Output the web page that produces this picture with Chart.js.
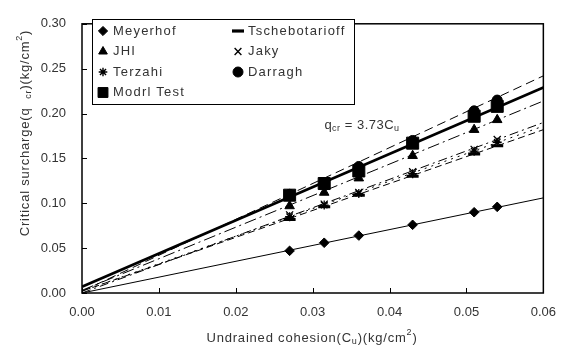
<!DOCTYPE html>
<html>
<head>
<meta charset="utf-8">
<script src="https://cdn.jsdelivr.net/npm/chart.js@4"></script>
<style>
  html, body { margin: 0; padding: 0; background: #fff; }
  #wrap { position: relative; width: 568px; height: 351px; }
</style>
</head>
<body>
<div id="wrap"><canvas id="surchargeChart" width="568" height="351"></canvas></div>
<script>
// Undrained cohesion of the test points (kg/cm2)
const cohesion = [0.027, 0.0315, 0.036, 0.043, 0.051, 0.054];

// Critical surcharge by method (kg/cm2)
const meyerhof = [0.047, 0.056, 0.064, 0.076, 0.090, 0.096];
const tschebotarioff = [0.082, 0.096, 0.109, 0.130, 0.155, 0.164];
const jhi = [0.097, 0.112, 0.128, 0.153, 0.182, 0.193];
const jaky = [0.087, 0.099, 0.112, 0.135, 0.160, 0.171];
const terzahi = [0.085, 0.098, 0.111, 0.133, 0.158, 0.168];
const darragh = [0.110, 0.123, 0.141, 0.170, 0.203, 0.215];
const modelTest = [0.109, 0.122, 0.136, 0.167, 0.197, 0.208];

// Trend lines, read at Cu = 0 and Cu = 0.06
const fitX = [0, 0.06];
const meyerhofFit = [0.000, 0.106];
const tschebotarioffFit = [0.002, 0.182];
const jhiFit = [0.003, 0.214];
const jakyFit = [0.000, 0.190];
const terzahiFit = [0.002, 0.186];
const darraghFit = [0.002, 0.242];
const modelFit = [0.007, 0.229];

const xTicks = [0, 0.01, 0.02, 0.03, 0.04, 0.05, 0.06];
const yTicks = [0, 0.05, 0.10, 0.15, 0.20, 0.25, 0.30];

const pts = (xs, ys) => xs.map((x, i) => ({ x: x, y: ys[i] }));

const TEXT = "#333";
const FONT = "Liberation Sans, Arial, sans-serif";

function markerSet(label, ys, style, radius, extra) {
    return Object.assign({
        label: label,
        data: pts(cohesion, ys),
        showLine: false,
        pointStyle: style,
        pointRadius: radius,
        pointBackgroundColor: "#000",
        pointBorderColor: "#000",
        pointBorderWidth: 1
    }, extra || {});
}

function fitSet(ys, width, dash) {
    return {
        label: "",
        data: pts(fitX, ys),
        showLine: true,
        borderColor: "#000",
        borderWidth: width,
        borderDash: dash,
        pointRadius: 0,
        fill: false
    };
}

const datasets = [
    markerSet("Modrl Test", modelTest, "rect", 8.5),
    markerSet("Darragh", darragh, "circle", 5),
    markerSet("Tschebotarioff", tschebotarioff, "line", 6, { pointBorderWidth: 3 }),
    markerSet("JHI", jhi, "triangle", 5.5),
    markerSet("Jaky", jaky, "crossRot", 5, { pointBorderWidth: 1.3 }),
    markerSet("Terzahi", terzahi, "star", 4.5, { pointBorderWidth: 1.3 }),
    markerSet("Meyerhof", meyerhof, "rectRot", 4.8),
    fitSet(modelFit, 2.6, []),
    fitSet(darraghFit, 1, [9, 5]),
    fitSet(jhiFit, 1, [12, 4, 2, 4]),
    fitSet(tschebotarioffFit, 1, [7, 4]),
    fitSet(jakyFit, 1, [9, 4, 2, 4]),
    fitSet(terzahiFit, 1, [2, 5]),
    fitSet(meyerhofFit, 1, [])
];

// legend entries: [label, pointStyle, radius, borderWidth]
const legendCol1 = [["Meyerhof", "rectRot", 4.6, 1], ["JHI", "triangle", 5, 1], ["Terzahi", "star", 4.3, 1.4], ["Modrl Test", "rect", 7, 1]];
const legendCol2 = [["Tschebotarioff", "line", 6, 3.2], ["Jaky", "crossRot", 4.8, 1.4], ["Darragh", "circle", 5, 1]];

function richText(ctx, parts, x, y, size) {
    // parts: [text, mode] mode: "" | "sub" | "sup"
    const small = Math.round(size * 0.7);
    let total = 0;
    parts.forEach(p => {
        ctx.font = (p[1] ? small : size) + "px " + FONT;
        total += ctx.measureText(p[0]).width;
    });
    let cx = x - total / 2;
    parts.forEach(p => {
        ctx.font = (p[1] ? small : size) + "px " + FONT;
        let dy = 0;
        if (p[1] === "sub") dy = size * 0.3;
        if (p[1] === "sup") dy = -size * 0.4;
        ctx.fillText(p[0], cx, y + dy);
        cx += ctx.measureText(p[0]).width;
    });
}

const decorations = {
    id: "decorations",
    afterDraw(chart) {
        const ctx = chart.ctx;
        const a = chart.chartArea;
        const xs = chart.scales.x, ys = chart.scales.y;
        ctx.save();

        // plot frame
        ctx.strokeStyle = "#000";
        ctx.lineWidth = 1.5;
        ctx.strokeRect(a.left, a.top, a.right - a.left, a.bottom - a.top);

        // inward tick marks
        ctx.lineWidth = 1;
        ctx.beginPath();
        yTicks.forEach(v => {
            const py = Math.round(ys.getPixelForValue(v)) + 0.5;
            ctx.moveTo(a.left, py); ctx.lineTo(a.left + 5, py);
        });
        xTicks.forEach(v => {
            const px = Math.round(xs.getPixelForValue(v)) + 0.5;
            ctx.moveTo(px, a.bottom); ctx.lineTo(px, a.bottom - 5);
        });
        ctx.stroke();

        // legend box
        const lx = 92, ly = 19, lw = 262, lh = 85;
        ctx.fillStyle = "#fff";
        ctx.fillRect(lx, ly, lw, lh);
        ctx.lineWidth = 1;
        ctx.strokeStyle = "#000";
        ctx.strokeRect(lx + 0.5, ly + 0.5, lw, lh);
        ctx.font = "13px " + FONT;
        ctx.letterSpacing = "1.2px";
        ctx.textBaseline = "middle";
        ctx.textAlign = "left";
        const drawCol = (items, mx, tx) => {
            items.forEach((it, i) => {
                const cy = 31 + i * 20.5;
                ctx.fillStyle = "#000";
                ctx.strokeStyle = "#000";
                ctx.lineWidth = it[3];
                Chart.helpers.drawPoint(ctx, { pointStyle: it[1], radius: it[2], rotation: 0, borderWidth: it[3] }, mx, cy);
                ctx.fillStyle = TEXT;
                ctx.fillText(it[0], tx, cy);
            });
        };
        drawCol(legendCol1, 103, 113);
        drawCol(legendCol2, 238, 248);
        ctx.letterSpacing = "0px";

        // equation label
        ctx.fillStyle = TEXT;
        ctx.textAlign = "left";
        ctx.letterSpacing = "0.5px";
        richText(ctx, [["q", ""], ["cr", "sub"], [" = 3.73C", ""], ["u", "sub"]], 362, 125, 13);

        // axis titles
        ctx.letterSpacing = "0.8px";
        richText(ctx, [["Undrained cohesion(C", ""], ["u", "sub"], [")(kg/cm", ""], ["2", "sup"], [")", ""]], 312, 338, 13);
        ctx.save();
        ctx.translate(25, 133);
        ctx.rotate(-Math.PI / 2);
        richText(ctx, [["Critical surcharge(q  ", ""], ["cr", "sub"], [")(kg/cm", ""], ["2", "sup"], [")", ""]], 0, 0, 13);
        ctx.restore();
        ctx.letterSpacing = "0px";

        ctx.restore();
    }
};

document.addEventListener("DOMContentLoaded", () => {
    const canvas = document.getElementById("surchargeChart");
    new Chart(canvas, {
        type: "scatter",
        data: { datasets: datasets },
        options: {
            responsive: false,
            animation: false,
            layout: { padding: { top: 9, right: 20, left: 0, bottom: 0 } },
            scales: {
                x: {
                    type: "linear",
                    min: 0,
                    max: 0.06,
                    afterBuildTicks: s => { s.ticks = xTicks.map(v => ({ value: v })); },
                    afterFit: s => { s.height = 58; },
                    grid: { display: false, drawTicks: false },
                    border: { display: false },
                    ticks: {
                        padding: 12,
                        color: TEXT,
                        font: { family: FONT, size: 13 },
                        callback: v => v.toFixed(2)
                    }
                },
                y: {
                    min: 0,
                    max: 0.30,
                    afterBuildTicks: s => { s.ticks = yTicks.map(v => ({ value: v })); },
                    afterFit: s => { s.width = 82; },
                    grid: { display: false, drawTicks: false },
                    border: { display: false },
                    ticks: {
                        padding: 16,
                        color: TEXT,
                        font: { family: FONT, size: 13 },
                        callback: v => v.toFixed(2)
                    }
                }
            },
            plugins: {
                legend: { display: false },
                tooltip: { enabled: false }
            }
        },
        plugins: [decorations]
    });
});
</script>
</body>
</html>
